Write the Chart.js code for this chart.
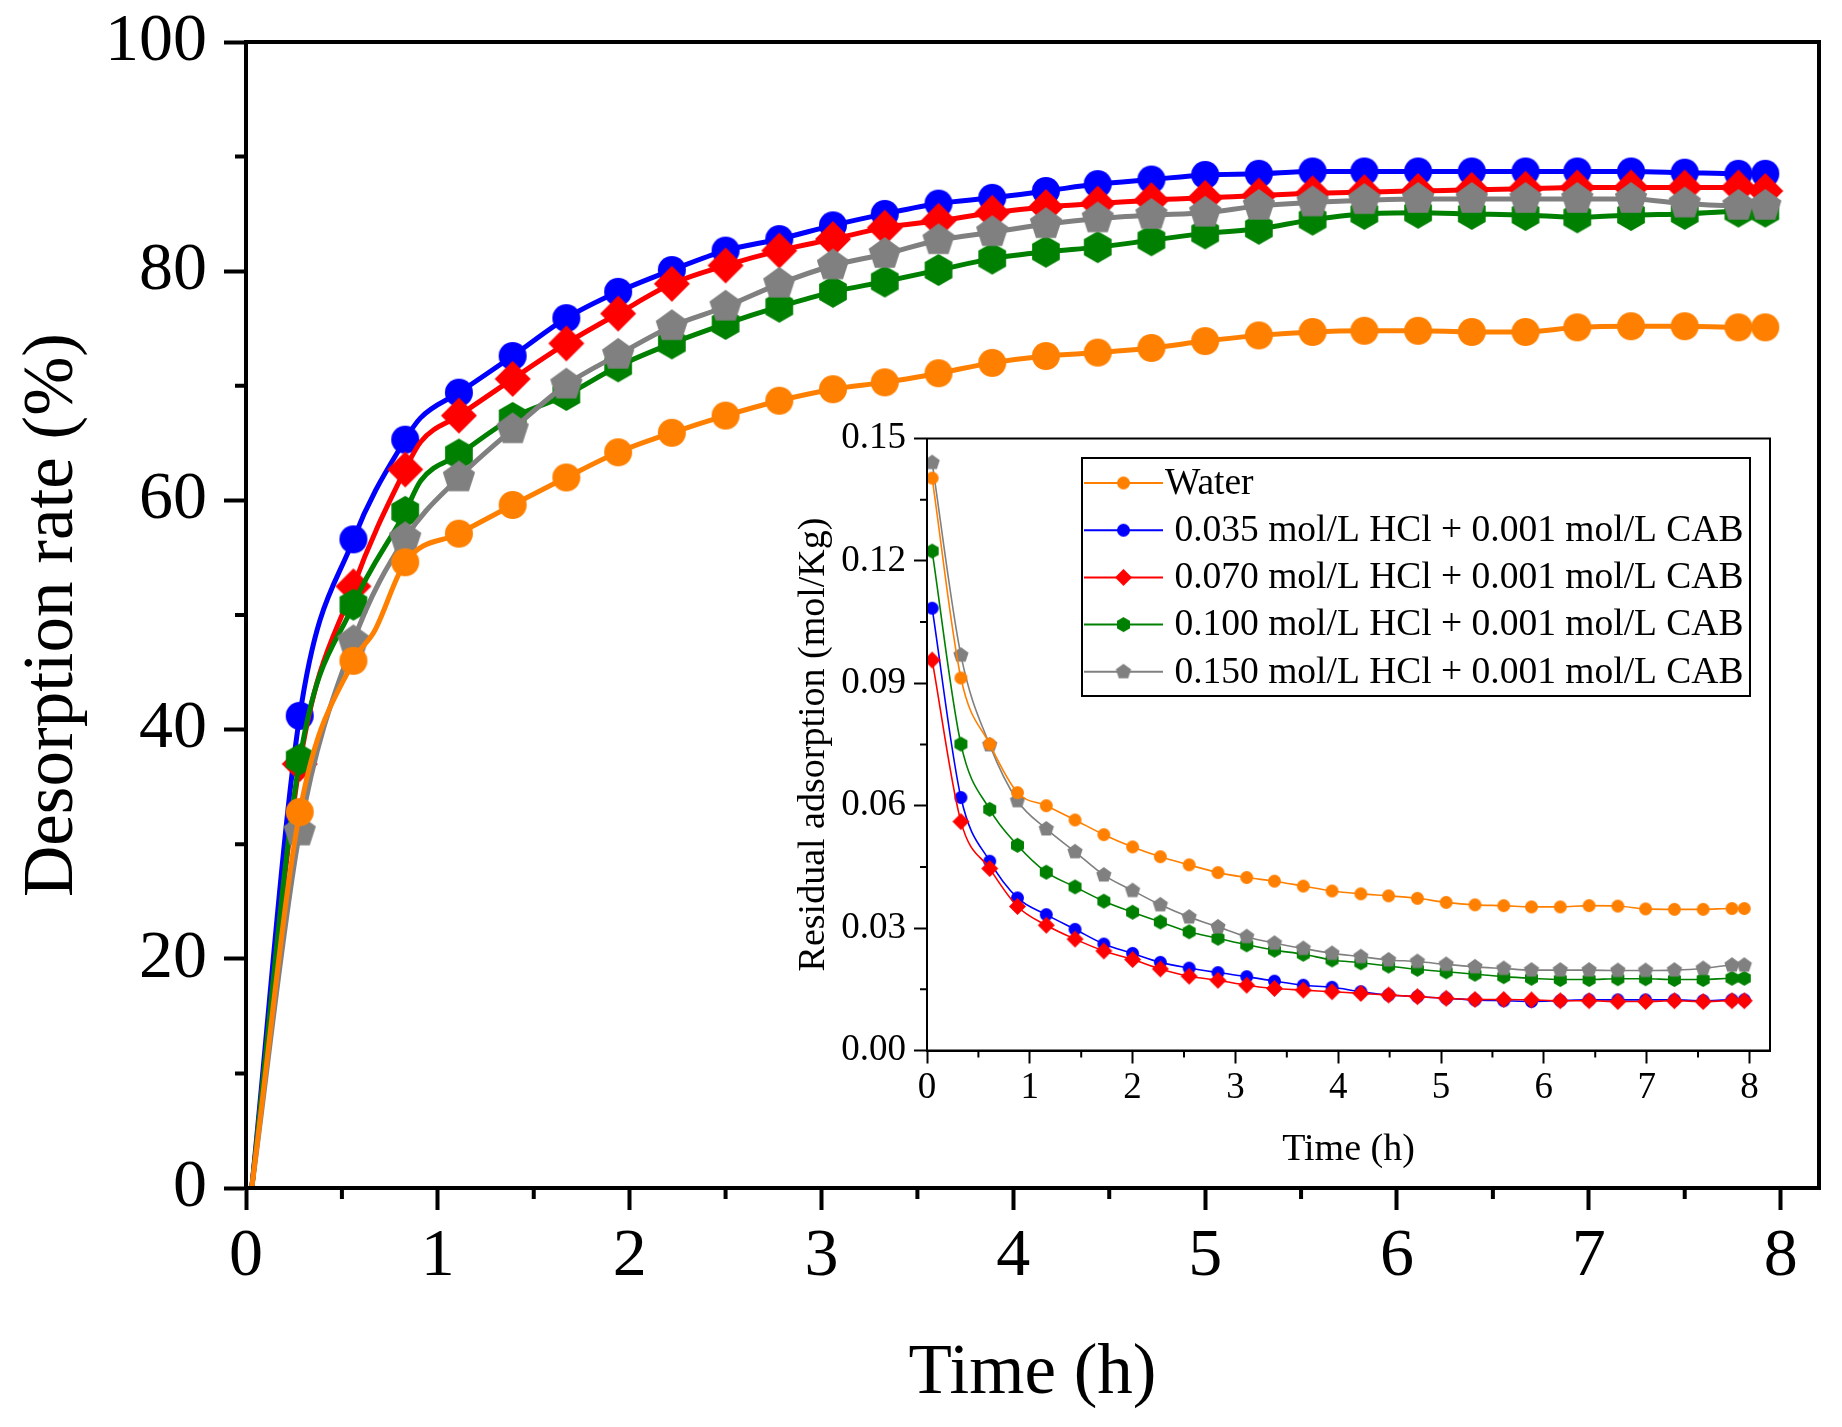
<!DOCTYPE html>
<html>
<head>
<meta charset="utf-8">
<script src="https://cdn.jsdelivr.net/npm/chart.js@4.4.1/dist/chart.umd.min.js"></script>
<style>
  html, body { margin: 0; padding: 0; background: #fff; }
  #wrap { position: relative; width: 1842px; height: 1427px; }
  #mainChart { position: absolute; left: 0; top: 0; }
  #insetChart { position: absolute; left: 780px; top: 400px; }
</style>
</head>
<body>
<div id="wrap">
  <canvas id="mainChart" width="1842" height="1427"></canvas>
  <canvas id="insetChart" width="1010" height="780"></canvas>
</div>
<script>
// series: water, 0.035, 0.070, 0.100, 0.150 mol/L HCl
const seriesLabels = ['Water', ' 0.035 mol/L HCl + 0.001 mol/L CAB', ' 0.070 mol/L HCl + 0.001 mol/L CAB',
                      ' 0.100 mol/L HCl + 0.001 mol/L CAB', ' 0.150 mol/L HCl + 0.001 mol/L CAB'];
const seriesColors = ['#FF8000', '#0000FF', '#FF0000', '#008000', '#808080'];
const seriesShapes = ['circle', 'circle', 'diamond', 'hexagon', 'pentagon'];
const drawOrder = [0, 4, 3, 2, 1];

// main chart: desorption rate (%)
const mainTimes = [0.03, 0.28, 0.56, 0.67, 0.83, 0.91, 1.11, 1.39, 1.67, 1.94, 2.22, 2.50, 2.78, 3.06, 3.33, 3.61,
                   3.89, 4.17, 4.44, 4.72, 5.00, 5.28, 5.56, 5.83, 6.11, 6.39, 6.67, 6.94, 7.22, 7.50, 7.78, 7.92];
const noMarkerIdx = [0, 3, 5];
const rateWater = [0, 32.8, 46.0, 48.6, 54.6, null, 57.1, 59.6, 62.0, 64.2, 65.9, 67.4, 68.7, 69.7, 70.3, 71.1,
                   72.0, 72.6, 72.9, 73.3, 73.9, 74.4, 74.7, 74.8, 74.8, 74.7, 74.7, 75.1, 75.2, 75.2, 75.1, 75.1];
const rate035 = [0, 41.2, 56.6, null, 65.3, 67.2, 69.4, 72.6, 75.9, 78.2, 80.1, 81.8, 82.8, 84.0, 85.0, 85.9,
                 86.4, 87.0, 87.6, 88.0, 88.4, 88.5, 88.7, 88.7, 88.7, 88.7, 88.7, 88.7, 88.7, 88.6, 88.5, 88.5];
const rate070 = [0, 37.0, 52.5, null, 62.7, 65.1, 67.4, 70.6, 73.7, 76.3, 78.9, 80.5, 81.8, 82.8, 83.8, 84.4,
                 85.1, 85.6, 85.9, 86.2, 86.4, 86.6, 86.8, 86.9, 87.0, 87.1, 87.2, 87.3, 87.3, 87.3, 87.3, 87.0];
const rate100 = [0, 37.4, 50.9, null, 59.0, 61.7, 64.0, 67.2, 69.2, 71.7, 73.7, 75.4, 76.9, 78.2, 79.1, 80.1,
                 81.1, 81.7, 82.1, 82.7, 83.3, 83.7, 84.5, 85.0, 85.1, 85.0, 84.9, 84.7, 84.9, 85.0, 85.2, 85.2];
const rate150 = [0, 31.1, 47.7, null, 56.7, null, 62.0, 66.2, 70.1, 72.7, 75.2, 76.9, 78.9, 80.5, 81.5, 82.7,
                 83.4, 84.1, 84.6, 84.9, 85.1, 85.7, 86.0, 86.2, 86.3, 86.3, 86.3, 86.3, 86.3, 85.9, 85.7, 85.7];
const mainXTicks = [0, 1, 2, 3, 4, 5, 6, 7, 8];
const mainYTicks = [0, 20, 40, 60, 80, 100];
const mainXMinor = [0.5, 1.5, 2.5, 3.5, 4.5, 5.5, 6.5, 7.5];
const mainYMinor = [10, 30, 50, 70, 90];

// inset: residual adsorption (mol/Kg)
const insetTimes = [0.05, 0.33, 0.61, 0.88, 1.16, 1.44, 1.72, 2.00, 2.27, 2.55, 2.83, 3.11, 3.38, 3.66, 3.94,
                    4.22, 4.49, 4.77, 5.05, 5.33, 5.61, 5.88, 6.16, 6.44, 6.72, 6.99, 7.27, 7.55, 7.83, 7.95];
const resWater = [0.1403, 0.0913, 0.0751, 0.0632, 0.0600, 0.0565, 0.0529, 0.0499, 0.0475, 0.0455, 0.0436, 0.0424,
                  0.0415, 0.0403, 0.0391, 0.0384, 0.0379, 0.0373, 0.0363, 0.0357, 0.0355, 0.0352, 0.0352, 0.0355,
                  0.0354, 0.0347, 0.0346, 0.0346, 0.0348, 0.0348];
const res035 = [0.1084, 0.0620, 0.0464, 0.0374, 0.0333, 0.0297, 0.0261, 0.0238, 0.0216, 0.0202, 0.0191, 0.0181,
                0.0170, 0.0160, 0.0155, 0.0144, 0.0136, 0.0132, 0.0128, 0.0124, 0.0122, 0.0120, 0.0122, 0.0124,
                0.0124, 0.0124, 0.0124, 0.0122, 0.0124, 0.0124];
const res070 = [0.0957, 0.0561, 0.0446, 0.0353, 0.0307, 0.0273, 0.0244, 0.0223, 0.0200, 0.0182, 0.0172, 0.0160,
                0.0152, 0.0148, 0.0144, 0.0140, 0.0136, 0.0132, 0.0128, 0.0125, 0.0125, 0.0124, 0.0122, 0.0122,
                0.0120, 0.0120, 0.0122, 0.0120, 0.0122, 0.0122];
const res100 = [0.1224, 0.0751, 0.0591, 0.0503, 0.0437, 0.0401, 0.0366, 0.0339, 0.0315, 0.0291, 0.0275, 0.0259,
                0.0246, 0.0236, 0.0222, 0.0215, 0.0207, 0.0199, 0.0193, 0.0187, 0.0181, 0.0177, 0.0174, 0.0174,
                0.0176, 0.0176, 0.0174, 0.0174, 0.0177, 0.0177];
const res150 = [0.1441, 0.0969, 0.0749, 0.0612, 0.0543, 0.0487, 0.0430, 0.0392, 0.0357, 0.0327, 0.0303, 0.0279,
                0.0263, 0.0250, 0.0238, 0.0230, 0.0222, 0.0218, 0.0211, 0.0205, 0.0201, 0.0197, 0.0197, 0.0197,
                0.0196, 0.0196, 0.0197, 0.0201, 0.0209, 0.0209];
const insetXTicks = [0, 1, 2, 3, 4, 5, 6, 7, 8];
const insetYTicks = [0, 0.03, 0.06, 0.09, 0.12, 0.15];
const insetXMinor = [0.5, 1.5, 2.5, 3.5, 4.5, 5.5, 6.5, 7.5];
const insetYMinor = [0.015, 0.045, 0.075, 0.105, 0.135];

Chart.defaults.font.family = '"Liberation Serif", "Times New Roman", serif';
Chart.defaults.color = '#000';

function makeMarker(shape, r, color) {
  const c = document.createElement('canvas');
  const s = Math.ceil(2 * r + 2);
  c.width = s;
  c.height = s;
  const g = c.getContext('2d');
  g.fillStyle = color;
  g.translate(s / 2, s / 2);
  g.beginPath();
  if (shape === 'circle') {
    g.arc(0, 0, r, 0, Math.PI * 2);
  } else {
    const n = { diamond: 4, pentagon: 5, hexagon: 6 }[shape];
    for (let i = 0; i < n; i++) {
      const a = -Math.PI / 2 + i * 2 * Math.PI / n;
      if (i) g.lineTo(r * Math.cos(a), r * Math.sin(a));
      else g.moveTo(r * Math.cos(a), r * Math.sin(a));
    }
    g.closePath();
  }
  g.fill();
  return c;
}

const mainSizes = { circle: 14, diamond: 18, hexagon: 16, pentagon: 17 };
const insetSizes = { circle: 6.5, diamond: 8.5, hexagon: 7.5, pentagon: 8 };

function toPoints(times, values) {
  return times.map((t, i) => ({ x: t, y: values[i] }));
}

// minor ticks + box frame around the plot area
const frameTicks = {
  id: 'frameTicks',
  afterDatasetsDraw(chart, args, o) {
    const { ctx, chartArea: a } = chart;
    const x = chart.scales.x, y = chart.scales.y;
    ctx.save();
    ctx.strokeStyle = '#000';
    ctx.lineWidth = o.tickWidth;
    ctx.beginPath();
    o.xMinor.forEach(v => {
      const px = x.getPixelForValue(v);
      ctx.moveTo(px, a.bottom);
      ctx.lineTo(px, a.bottom + o.minorLen);
    });
    o.yMinor.forEach(v => {
      const py = y.getPixelForValue(v);
      ctx.moveTo(a.left, py);
      ctx.lineTo(a.left - o.minorLen, py);
    });
    ctx.stroke();
    ctx.lineWidth = o.frameWidth;
    ctx.strokeRect(a.left, a.top, a.right - a.left, a.bottom - a.top);
    ctx.restore();
  }
};

// boxed legend of the inset: line sample with marker in the middle
const insetLegend = {
  id: 'insetLegend',
  afterDraw(chart, args, o) {
    const ctx = chart.ctx;
    ctx.save();
    ctx.fillStyle = '#fff';
    ctx.fillRect(o.left, o.top, o.width, o.height);
    ctx.strokeStyle = '#000';
    ctx.lineWidth = 2;
    ctx.strokeRect(o.left, o.top, o.width, o.height);
    ctx.font = o.fontSize + 'px ' + Chart.defaults.font.family;
    ctx.textBaseline = 'middle';
    ctx.textAlign = 'left';
    seriesLabels.forEach((label, i) => {
      const yy = o.top + o.firstRow + i * o.rowGap;
      ctx.strokeStyle = seriesColors[i];
      ctx.lineWidth = 2;
      ctx.beginPath();
      ctx.moveTo(o.left + 2, yy);
      ctx.lineTo(o.left + 2 + o.lineLen, yy);
      ctx.stroke();
      const m = makeMarker(seriesShapes[i], insetSizes[seriesShapes[i]], seriesColors[i]);
      ctx.drawImage(m, o.left + 2 + o.lineLen / 2 - m.width / 2, yy - m.height / 2);
      ctx.fillStyle = '#000';
      ctx.fillText(label, o.left + 4 + o.lineLen, yy + 1);
    });
    ctx.restore();
  }
};

function axisOptions(cfg) {
  return {
    type: 'linear',
    min: cfg.min,
    max: cfg.max,
    afterBuildTicks: s => { s.ticks = cfg.ticks.map(v => ({ value: v })); },
    afterFit: s => {
      if (cfg.width) s.width = cfg.width;
      if (cfg.height) s.height = cfg.height;
      s.paddingTop = 0; s.paddingBottom = 0; s.paddingLeft = 0; s.paddingRight = 0;
    },
    grid: { drawOnChartArea: false, drawTicks: true, tickLength: cfg.tickLen, tickWidth: cfg.tickWidth, tickColor: '#000' },
    border: { display: true, color: '#000', width: cfg.tickWidth },
    ticks: { font: { size: cfg.tickSize }, color: '#000', padding: cfg.tickPad, maxRotation: 0, autoSkip: false,
             callback: cfg.fmt },
    title: { display: true, text: cfg.title, font: { size: cfg.titleSize }, color: '#000', padding: cfg.titlePad }
  };
}

const mainValues = [rateWater, rate035, rate070, rate100, rate150];
new Chart(document.getElementById('mainChart'), {
  type: 'line',
  data: {
    datasets: mainValues.map((vals, i) => ({
      label: seriesLabels[i],
      data: toPoints(mainTimes, vals),
      borderColor: seriesColors[i],
      backgroundColor: seriesColors[i],
      borderWidth: 5,
      pointStyle: makeMarker(seriesShapes[i], mainSizes[seriesShapes[i]], seriesColors[i]),
      pointRadius: ctx => noMarkerIdx.includes(ctx.dataIndex) ? 0 : 10,
      cubicInterpolationMode: 'monotone',
      spanGaps: true,
      order: drawOrder[i]
    }))
  },
  options: {
    responsive: false,
    devicePixelRatio: 1,
    animation: false,
    events: [],
    layout: { padding: { top: 42, right: 23, left: 0, bottom: 0 } },
    plugins: {
      legend: { display: false },
      tooltip: { enabled: false },
      frameTicks: { xMinor: mainXMinor, yMinor: mainYMinor, minorLen: 11, tickWidth: 4, frameWidth: 4 }
    },
    scales: {
      x: axisOptions({ min: 0, max: 8.2, ticks: mainXTicks, height: 239, tickLen: 22, tickWidth: 4, tickSize: 68,
                       tickPad: 6, title: 'Time (h)', titleSize: 71, titlePad: { top: 0, bottom: 10 } }),
      y: axisOptions({ min: 0, max: 100, ticks: mainYTicks, width: 246, tickLen: 22, tickWidth: 4, tickSize: 68,
                       tickPad: 17, title: 'Desorption rate (%)', titleSize: 71, titlePad: { top: 11, bottom: 0 } })
    }
  },
  plugins: [frameTicks]
});

const insetValues = [resWater, res035, res070, res100, res150];
new Chart(document.getElementById('insetChart'), {
  type: 'line',
  data: {
    datasets: insetValues.map((vals, i) => ({
      label: seriesLabels[i],
      data: toPoints(insetTimes, vals),
      borderColor: seriesColors[i],
      backgroundColor: seriesColors[i],
      borderWidth: 1.6,
      pointStyle: makeMarker(seriesShapes[i], insetSizes[seriesShapes[i]], seriesColors[i]),
      pointRadius: 5,
      cubicInterpolationMode: 'monotone',
      order: drawOrder[i]
    }))
  },
  options: {
    responsive: false,
    devicePixelRatio: 1,
    animation: false,
    events: [],
    layout: { padding: { top: 38.5, right: 20, left: 0, bottom: 0 } },
    plugins: {
      legend: { display: false },
      tooltip: { enabled: false },
      frameTicks: { xMinor: insetXMinor, yMinor: insetYMinor, minorLen: 7, tickWidth: 2, frameWidth: 2 },
      insetLegend: { left: 302, top: 58, width: 668, height: 238, firstRow: 25, rowGap: 47.2, lineLen: 79, fontSize: 37.5 }
    },
    scales: {
      x: axisOptions({ min: 0, max: 8.2, ticks: insetXTicks, height: 129.5, tickLen: 13, tickWidth: 2, tickSize: 37,
                       tickPad: 3, title: 'Time (h)', titleSize: 38, titlePad: { top: 0, bottom: 7 } }),
      y: axisOptions({ min: 0, max: 0.15, ticks: insetYTicks, width: 147, tickLen: 13, tickWidth: 2, tickSize: 37,
                       tickPad: 8, title: 'Residual adsorption (mol/Kg)', titleSize: 38, titlePad: { top: 11, bottom: 0 },
                       fmt: v => v.toFixed(2) })
    }
  },
  plugins: [frameTicks, insetLegend]
});
</script>
</body>
</html>
